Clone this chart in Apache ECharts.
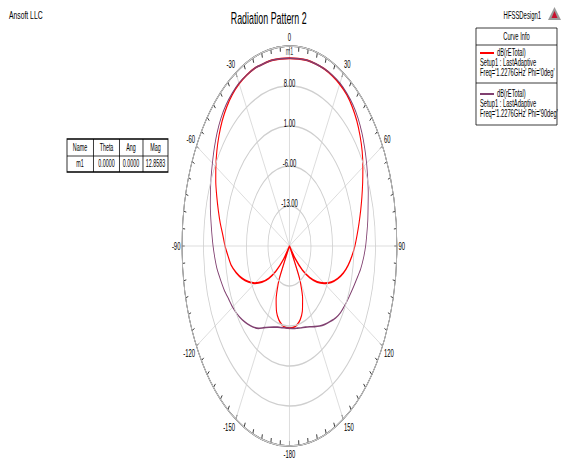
<!DOCTYPE html>
<html>
<head>
<meta charset="utf-8">
<script src="https://cdn.jsdelivr.net/npm/echarts@6/dist/echarts.min.js"></script>
<style>
  html, body { margin: 0; padding: 0; overflow: hidden; background: #fff; }
  /* the reference is a squashed HFSS plot, so draw wide and squeeze horizontally */
  #main { width: 1048px; height: 463px; transform: scaleX(0.53721); transform-origin: 0 0; }
</style>
</head>
<body>
<div id="main"></div>
<script>
// Theta cut, degrees
var theta = [-180, -175, -170, -165, -160, -155, -150, -145, -140, -135, -130, -125,
  -120, -115, -110, -105, -100, -95, -90, -85, -80, -75, -70, -65,
  -60, -55, -50, -45, -40, -35, -30, -25, -20, -15, -10, -5,
  0, 5, 10, 15, 20, 25, 30, 35, 40, 45, 50, 55,
  60, 65, 70, 75, 80, 85, 90, 95, 100, 105, 110, 115,
  120, 125, 130, 135, 140, 145, 150, 155, 160, 165, 170, 175, 180];

// dB(rETotal), Phi='0deg'
var gainPhi0 = [-5.6, -5.7, -6.0, -6.6, -7.7, -9.7, -13.2, -20.0, -17.0, -13.8, -11.2, -9.0,
  -7.0, -5.2, -3.5, -2.0, -0.7, 0.1, 1.0, 1.8, 2.9, 4.0, 5.2, 6.5,
  7.7, 8.9, 10.0, 11.0, 11.8, 12.4, 12.8, 13.0, 13.1, 13.0, 13.0, 12.9,
  12.86, 12.9, 13.0, 13.0, 13.0, 12.9, 12.7, 12.4, 11.8, 11.0, 10.0, 8.9,
  7.6, 6.3, 5.1, 4.0, 3.0, 2.1, 1.3, 0.4, -0.6, -1.8, -3.3, -5.0,
  -7.0, -9.0, -11.4, -14.0, -17.2, -20.0, -13.5, -9.9, -7.8, -6.6, -6.0, -5.7, -5.6];

// dB(rETotal), Phi='90deg'
var gainPhi90 = [-5.6, -5.6, -5.5, -5.3, -4.9, -4.3, -3.5, -2.4, -1.5, -0.7, 0.1, 0.8,
  1.4, 1.9, 2.6, 3.2, 3.9, 4.4, 4.9, 5.4, 6.0, 6.7, 7.4, 8.2,
  9.0, 9.9, 10.8, 11.6, 12.2, 12.6, 12.9, 13.0, 13.1, 13.0, 13.0, 12.9,
  12.86, 12.9, 13.0, 13.0, 13.0, 13.0, 12.9, 12.6, 12.2, 11.6, 10.8, 9.9,
  9.0, 8.1, 7.3, 6.5, 5.9, 5.3, 4.8, 4.2, 3.5, 2.6, 1.9, 1.3,
  0.8, 0.3, -0.4, -1.3, -2.1, -2.9, -3.7, -4.4, -4.9, -5.2, -5.4, -5.5, -5.6];

// marker table
var markerHead = ["Name", "Theta", "Ang", "Mag"];
var markerRow = ["m1", "0.0000", "0.0000", "12.8583"];
var markerTheta = 0;
var markerMag = 12.8583;

// radial scale (dB): rings every 7 dB from -20 to 15
var rMin = -20;
var rMax = 15;
var rStep = 7;

var S = 563 / 1048;          // horizontal squeeze
function X(v) { return v / S; }  // reference px -> unsqueezed px
var FONT = "'Liberation Sans', Arial, sans-serif";

function toPolar(values) {
  return values.map(function (v, i) {
    var a = theta[i] < 0 ? theta[i] + 360 : theta[i];
    return [Math.max(v, rMin) - rMin, a];
  });
}

function txt(x, y, s, size, align, widen) {
  return {
    type: "text", x: X(x), y: y, z: 10, scaleX: widen || 1,
    style: { text: s, fill: "#000", font: size + "px " + FONT, textAlign: align || "left", textVerticalAlign: "middle" }
  };
}
function hline(x1, x2, y, color, w) {
  return { type: "line", z: 10, shape: { x1: X(x1), y1: y, x2: X(x2), y2: y }, style: { stroke: color, lineWidth: w } };
}
function vline(x, y1, y2) {
  return { type: "line", z: 10, shape: { x1: X(x), y1: y1, x2: X(x), y2: y2 }, style: { stroke: "#000", lineWidth: 1 } };
}

var chart = echarts.init(document.getElementById("main"), null, { renderer: "svg" });

var W = 1.07; // legend text is a little wider in the reference
var graphics = [
  txt(9, 15, "Ansoft LLC", 11, "left", 1.15),
  txt(541, 15, "HFSSDesign1", 11, "right"),
  { type: "polygon", z: 10, shape: { points: [[X(548), 20], [X(554.5), 7], [X(561), 20]] }, style: { fill: "#9a9a9a" } },
  { type: "polygon", z: 11, shape: { points: [[X(551.5), 18], [X(554.5), 11], [X(557.5), 18]] }, style: { fill: "#c8102e" } },

  // Curve Info box
  { type: "rect", z: 9, shape: { x: X(476), y: 28, width: X(557) - X(476), height: 97 }, style: { fill: "#fff", stroke: "#000", lineWidth: 1 } },
  txt(516.5, 37, "Curve Info", 10, "center", W),
  hline(476, 557, 45, "#000", 1),
  hline(480, 494, 53, "#ff0000", 2),
  txt(497, 53, "dB(rETotal)", 10, "left", W),
  txt(480, 63, "Setup1 : LastAdaptive", 10, "left", W),
  txt(480, 73, "Freq='1.2276GHz' Phi='0deg'", 10, "left", W),
  hline(476, 557, 83, "#000", 1),
  hline(480, 494, 94, "#804070", 2),
  txt(497, 94, "dB(rETotal)", 10, "left", W),
  txt(480, 104, "Setup1 : LastAdaptive", 10, "left", W),
  txt(480, 114, "Freq='1.2276GHz' Phi='90deg'", 10, "left", W),

  // marker table
  { type: "rect", z: 9, shape: { x: X(67), y: 139, width: X(168) - X(67), height: 33 }, style: { fill: "#fff", stroke: "#000", lineWidth: 1.5 } },
  hline(67, 168, 156, "#000", 1),
  vline(93.5, 139, 172),
  vline(119.5, 139, 172),
  vline(143, 139, 172)
];
var colMid = [80, 106.5, 131, 155.5];
markerHead.forEach(function (s, i) { graphics.push(txt(colMid[i], 147.5, s, 10, "center")); });
markerRow.forEach(function (s, i) { graphics.push(txt(colMid[i], 164, s, 10, "center")); });

var option = {
  animation: false,
  backgroundColor: "#fff",
  title: {
    text: "Radiation Pattern 2",
    left: X(266),
    top: 5,
    textAlign: "center",
    textStyle: { color: "#000", fontSize: 16.5, fontWeight: "normal", fontFamily: FONT }
  },
  polar: {
    center: [X(289.5), 246],
    radius: 200
  },
  angleAxis: {
    type: "value",
    min: 0,
    max: 360,
    interval: 30,
    startAngle: 90,
    clockwise: true,
    axisLine: { lineStyle: { color: "#000", width: 1.5 } },
    axisTick: { inside: true, length: 5, lineStyle: { color: "#000" } },
    minorTick: { show: true, splitNumber: 6, length: 5, lineStyle: { color: "#000" } },
    axisLabel: {
      margin: 3,
      color: "#000",
      fontSize: 11,
      fontFamily: FONT,
      formatter: function (v) {
        if (v === 360) return "";
        return String(v >= 180 ? v - 360 : v);
      }
    },
    splitLine: { show: true, lineStyle: { color: "#d2d2d2", width: 1 } }
  },
  radiusAxis: {
    type: "value",
    min: 0,
    max: rMax - rMin,
    interval: rStep,
    axisLine: { show: false },
    axisTick: { show: false },
    axisLabel: {
      showMinLabel: false,
      showMaxLabel: false,
      margin: 0,
      align: "center",
      verticalAlign: "middle",
      color: "#000",
      fontSize: 11,
      fontFamily: FONT,
      formatter: function (v) { return "{r|" + (v + rMin).toFixed(2) + "}"; },
      rich: { r: { fontSize: 11, fontFamily: FONT, color: "#000", padding: [0, 0, 6, 0] } }
    },
    splitLine: { show: true, lineStyle: { color: "#cfcfcf", width: 1.5 } },
    z: 5
  },
  series: [
    {
      name: "dB(rETotal) Phi='0deg'",
      type: "line",
      coordinateSystem: "polar",
      data: toPolar(gainPhi0),
      showSymbol: false,
      smooth: 0.2,
      lineStyle: { color: "#ff0000", width: 2 },
      z: 3
    },
    {
      name: "dB(rETotal) Phi='90deg'",
      type: "line",
      coordinateSystem: "polar",
      data: toPolar(gainPhi90),
      showSymbol: false,
      smooth: 0.2,
      lineStyle: { color: "#804070", width: 1.6 },
      z: 4
    },
    {
      name: "m1",
      type: "scatter",
      coordinateSystem: "polar",
      data: [[markerMag - rMin, markerTheta]],
      symbolSize: 1,
      itemStyle: { color: "#ff0000" },
      label: { show: true, position: "top", distance: 1, formatter: "m1", color: "#000", fontSize: 10, fontFamily: FONT },
      z: 6
    }
  ],
  graphic: graphics
};

chart.setOption(option);
</script>
</body>
</html>
